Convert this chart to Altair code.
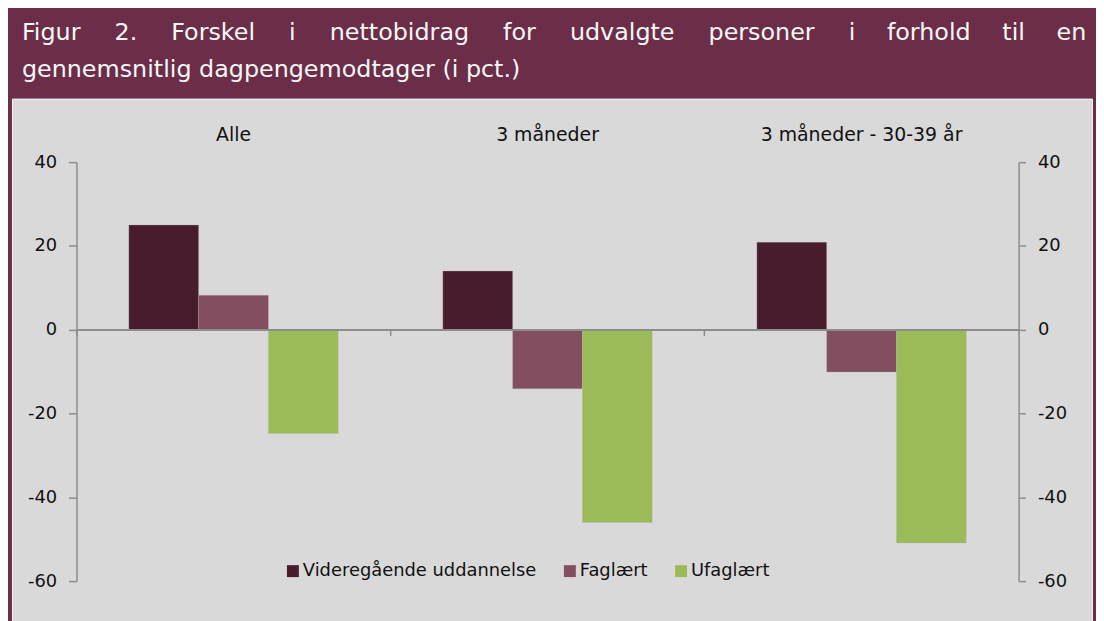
import altair as alt
import pandas as pd

categories = ["Alle", "3 måneder", "3 måneder - 30-39 år"]
series = ["Videregående uddannelse", "Faglært", "Ufaglært"]
videregaaende = [25.0, 14.0, 20.9]
faglaert = [8.2, -14.1, -10.1]
ufaglaert = [-24.8, -46.0, -50.9]
colors = ["#471C2D", "#824E60", "#9BBB59"]
y_ticks = [40, 20, 0, -20, -40, -60]

rows = []
for s, vals in zip(series, [videregaaende, faglaert, ufaglaert]):
    for c, v in zip(categories, vals):
        rows.append({"kategori": c, "serie": s, "værdi": v})
df = pd.DataFrame(rows)

FONT = "DejaVu Sans"
GRAY = "#8C8C8C"
TXT = "#111111"
LABEL_EXPR = "datum.value < 0 ? '-' + abs(datum.value) : '' + datum.value"

VIEW_H = 530
x_scale = alt.Scale(domain=categories, range=[65, 1014], paddingInner=0, paddingOuter=0)
y_scale = alt.Scale(domain=[-60, 40], range=[486, 64], nice=False, zero=False)
xo_scale = alt.Scale(domain=series, paddingInner=0, paddingOuter=0.75)
color_scale = alt.Scale(domain=series, range=colors)

bars = alt.Chart(df).mark_bar(stroke="#B8B0B4", strokeWidth=0.5, strokeOpacity=0.6).encode(
    x=alt.X("kategori:N", scale=x_scale, sort=categories,
            axis=alt.Axis(orient="top", title=None, domain=False, ticks=False, tickSize=0,
                          offset=-44, labelPadding=2, labelBaseline="alphabetic",
                          labelAngle=0, labelFontSize=19, labelFont=FONT, labelColor=TXT,
                          labelLimit=0)),
    xOffset=alt.XOffset("serie:N", scale=xo_scale, sort=series),
    y=alt.Y("værdi:Q", scale=y_scale,
            axis=alt.Axis(orient="left", title=None, values=y_ticks, grid=False, offset=-65,
                          domainColor=GRAY, domainWidth=1.5, tickColor=GRAY, tickSize=8,
                          tickWidth=1.5, labelPadding=12, labelFontSize=18, labelFont=FONT,
                          labelColor=TXT, labelExpr=LABEL_EXPR)),
    color=alt.Color("serie:N", scale=color_scale, sort=series,
                    legend=alt.Legend(title=None, orient="none", direction="horizontal",
                                      legendX=274, legendY=467, symbolType="square",
                                      symbolSize=144, symbolStrokeWidth=0, labelFontSize=18,
                                      labelFont=FONT, labelColor=TXT, columnPadding=24,
                                      labelOffset=1, labelLimit=0)),
)

frame = alt.Chart(df).mark_bar(opacity=0).encode(
    x=alt.X("kategori:N", scale=x_scale, sort=categories,
            axis=alt.Axis(orient="bottom", title=None, labels=False,
                          offset=-(VIEW_H - 232.6), bandPosition=0, domainColor=GRAY,
                          domainWidth=2, tickColor=GRAY, tickSize=6, tickWidth=1.5, zindex=1)),
    xOffset=alt.XOffset("serie:N", scale=xo_scale, sort=series),
    y=alt.Y("værdi:Q", scale=y_scale,
            axis=alt.Axis(orient="right", title=None, values=y_ticks, grid=False, offset=-74,
                          domainColor=GRAY, domainWidth=1.5, tickColor=GRAY, tickSize=7,
                          tickWidth=1.5, labelPadding=12, labelFontSize=18, labelFont=FONT,
                          labelColor=TXT, labelExpr=LABEL_EXPR)),
)

words = "Figur 2. Forskel i nettobidrag for udvalgte personer i forhold til en".split(" ")
line1 = words[0]
for i, w in enumerate(words[1:]):
    line1 += ("\u2003\u2004\u200a" if i < 8 else "\u2003\u2004") + w
title_lines = [line1, "gennemsnitlig dagpengemodtager (i pct.)"]

chart = alt.layer(bars, frame).resolve_scale(x="independent", y="independent").properties(
    width=1088,
    height=VIEW_H,
    padding={"left": 4, "right": 4, "top": 11, "bottom": 0},
    background="#6B2D47",
    title=alt.TitleParams(text=title_lines, anchor="start", color="#F7F7F7", font=FONT,
                          fontSize=24, fontWeight="normal", lineHeight=37, dx=10, offset=17),
).configure_view(fill="#D9D9D9", stroke="#F2F2F2", strokeWidth=1)

chart.save("out.html", embed_options={"renderer": "svg", "actions": False})
